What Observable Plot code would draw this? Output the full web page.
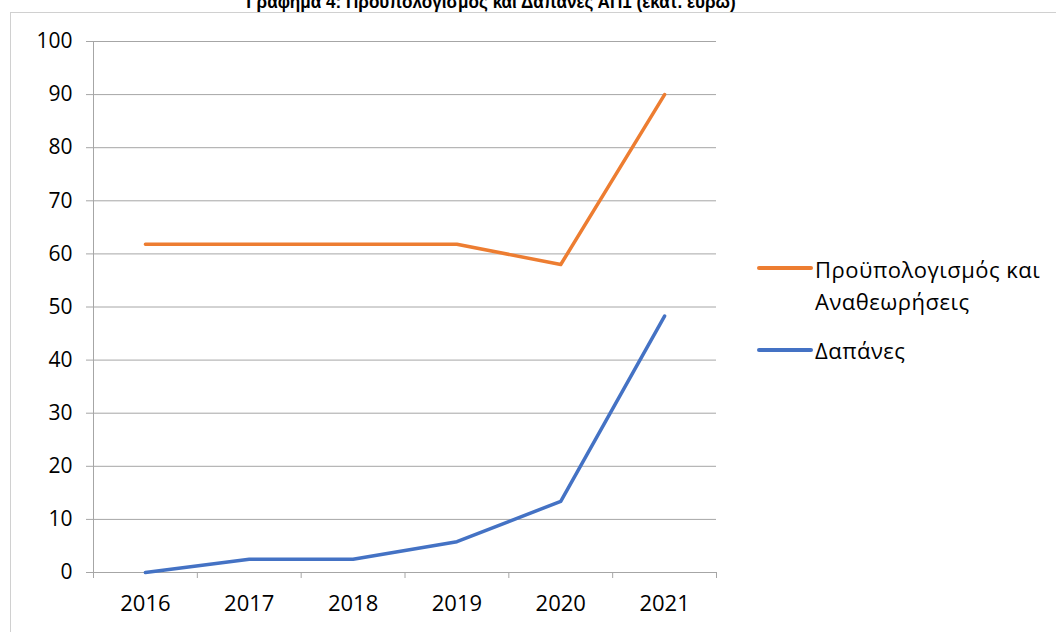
<!DOCTYPE html>
<html><head><meta charset="utf-8">
<script src="https://cdn.jsdelivr.net/npm/d3@7"></script>
<script src="https://cdn.jsdelivr.net/npm/@observablehq/plot@0.6"></script>
<style>
body{margin:0;background:#fff;font-family:"Open Sans",Arial,sans-serif;}
#wrap{position:relative;width:1056px;height:632px;overflow:hidden;}
#border{position:absolute;left:10px;top:12px;width:1100px;height:700px;border:1px solid #d0d0d0;box-sizing:border-box;}
#title{position:absolute;left:0;width:982px;text-align:center;top:-9px;font-weight:bold;font-size:19px;font-family:"Liberation Sans",Arial,sans-serif;transform:scaleX(0.9);transform-origin:491px 0;white-space:nowrap;}
#chart{position:absolute;left:0;top:0;}
.leg{position:absolute;font-size:22px;letter-spacing:0.5px;line-height:32px;color:#000;font-family:"Open Sans",sans-serif;white-space:nowrap;}
.sw{position:absolute;height:4px;width:56px;border-radius:2px;}
</style></head>
<body><div id="wrap"><div id="border"></div><div id="chart"></div><div id="title"></div>
<div class="sw" id="sw1" style="left:757px;top:266px;background:#ED7D31"></div>
<div class="leg" id="l1" style="left:815px;top:253px"></div>
<div class="sw" id="sw2" style="left:757px;top:348px;background:#4472C4"></div>
<div class="leg" id="l2" style="left:815px;top:334px"></div>
</div>
<script>
const titleText = "Γράφημα 4: Προϋπολογισμός και Δαπάνες ΑΠ1 (εκατ. ευρώ)";
const years = [2016, 2017, 2018, 2019, 2020, 2021];
const budget = [61.8, 61.8, 61.8, 61.8, 58, 90];
const spending = [0, 2.5, 2.5, 5.8, 13.4, 48.3];
const yTicks = [0, 10, 20, 30, 40, 50, 60, 70, 80, 90, 100];
const seriesNames = ["Προϋπολογισμός και", "Αναθεωρήσεις", "Δαπάνες"];

document.getElementById("title").textContent = titleText;
document.getElementById("l1").innerHTML = seriesNames[0] + "<br>" + seriesNames[1];
document.getElementById("l2").textContent = seriesNames[2];

const boundaries = [years[0] - 0.5, ...years.map(y => y + 0.5)];
const bData = years.map((y, i) => ({year: y, v: budget[i]}));
const sData = years.map((y, i) => ({year: y, v: spending[i]}));
const grey = "#a6a6a6";

const chart = Plot.plot({
  width: 1056, height: 632,
  marginLeft: 93, marginRight: 340, marginTop: 41, marginBottom: 60,
  style: {fontFamily: "Open Sans, Arial, sans-serif", background: "transparent", color: "#000"},
  x: {type: "linear", domain: [boundaries[0], boundaries[boundaries.length - 1]]},
  y: {domain: [0, 100]},
  marks: [
    Plot.gridY(yTicks, {stroke: grey, strokeOpacity: 1, strokeWidth: 1}),
    Plot.axisY(yTicks, {tickSize: 7, tickPadding: 14, fontSize: 21, stroke: grey, strokeOpacity: 1, fill: "#000", label: null}),
    Plot.ruleX([boundaries[0]], {stroke: grey}),
    Plot.ruleY([0], {stroke: grey}),
    Plot.axisX(boundaries, {tickSize: 6, tickFormat: () => "", stroke: grey, strokeOpacity: 1, label: null}),
    Plot.axisX(years, {tickSize: 0, tickPadding: 23, fontSize: 22, tickFormat: d => String(d), fill: "#000", label: null}),
    Plot.line(bData, {x: "year", y: "v", stroke: "#ED7D31", strokeWidth: 3.5}),
    Plot.line(sData, {x: "year", y: "v", stroke: "#4472C4", strokeWidth: 3.5})
  ]
});
document.getElementById("chart").appendChild(chart);
</script></body></html>
